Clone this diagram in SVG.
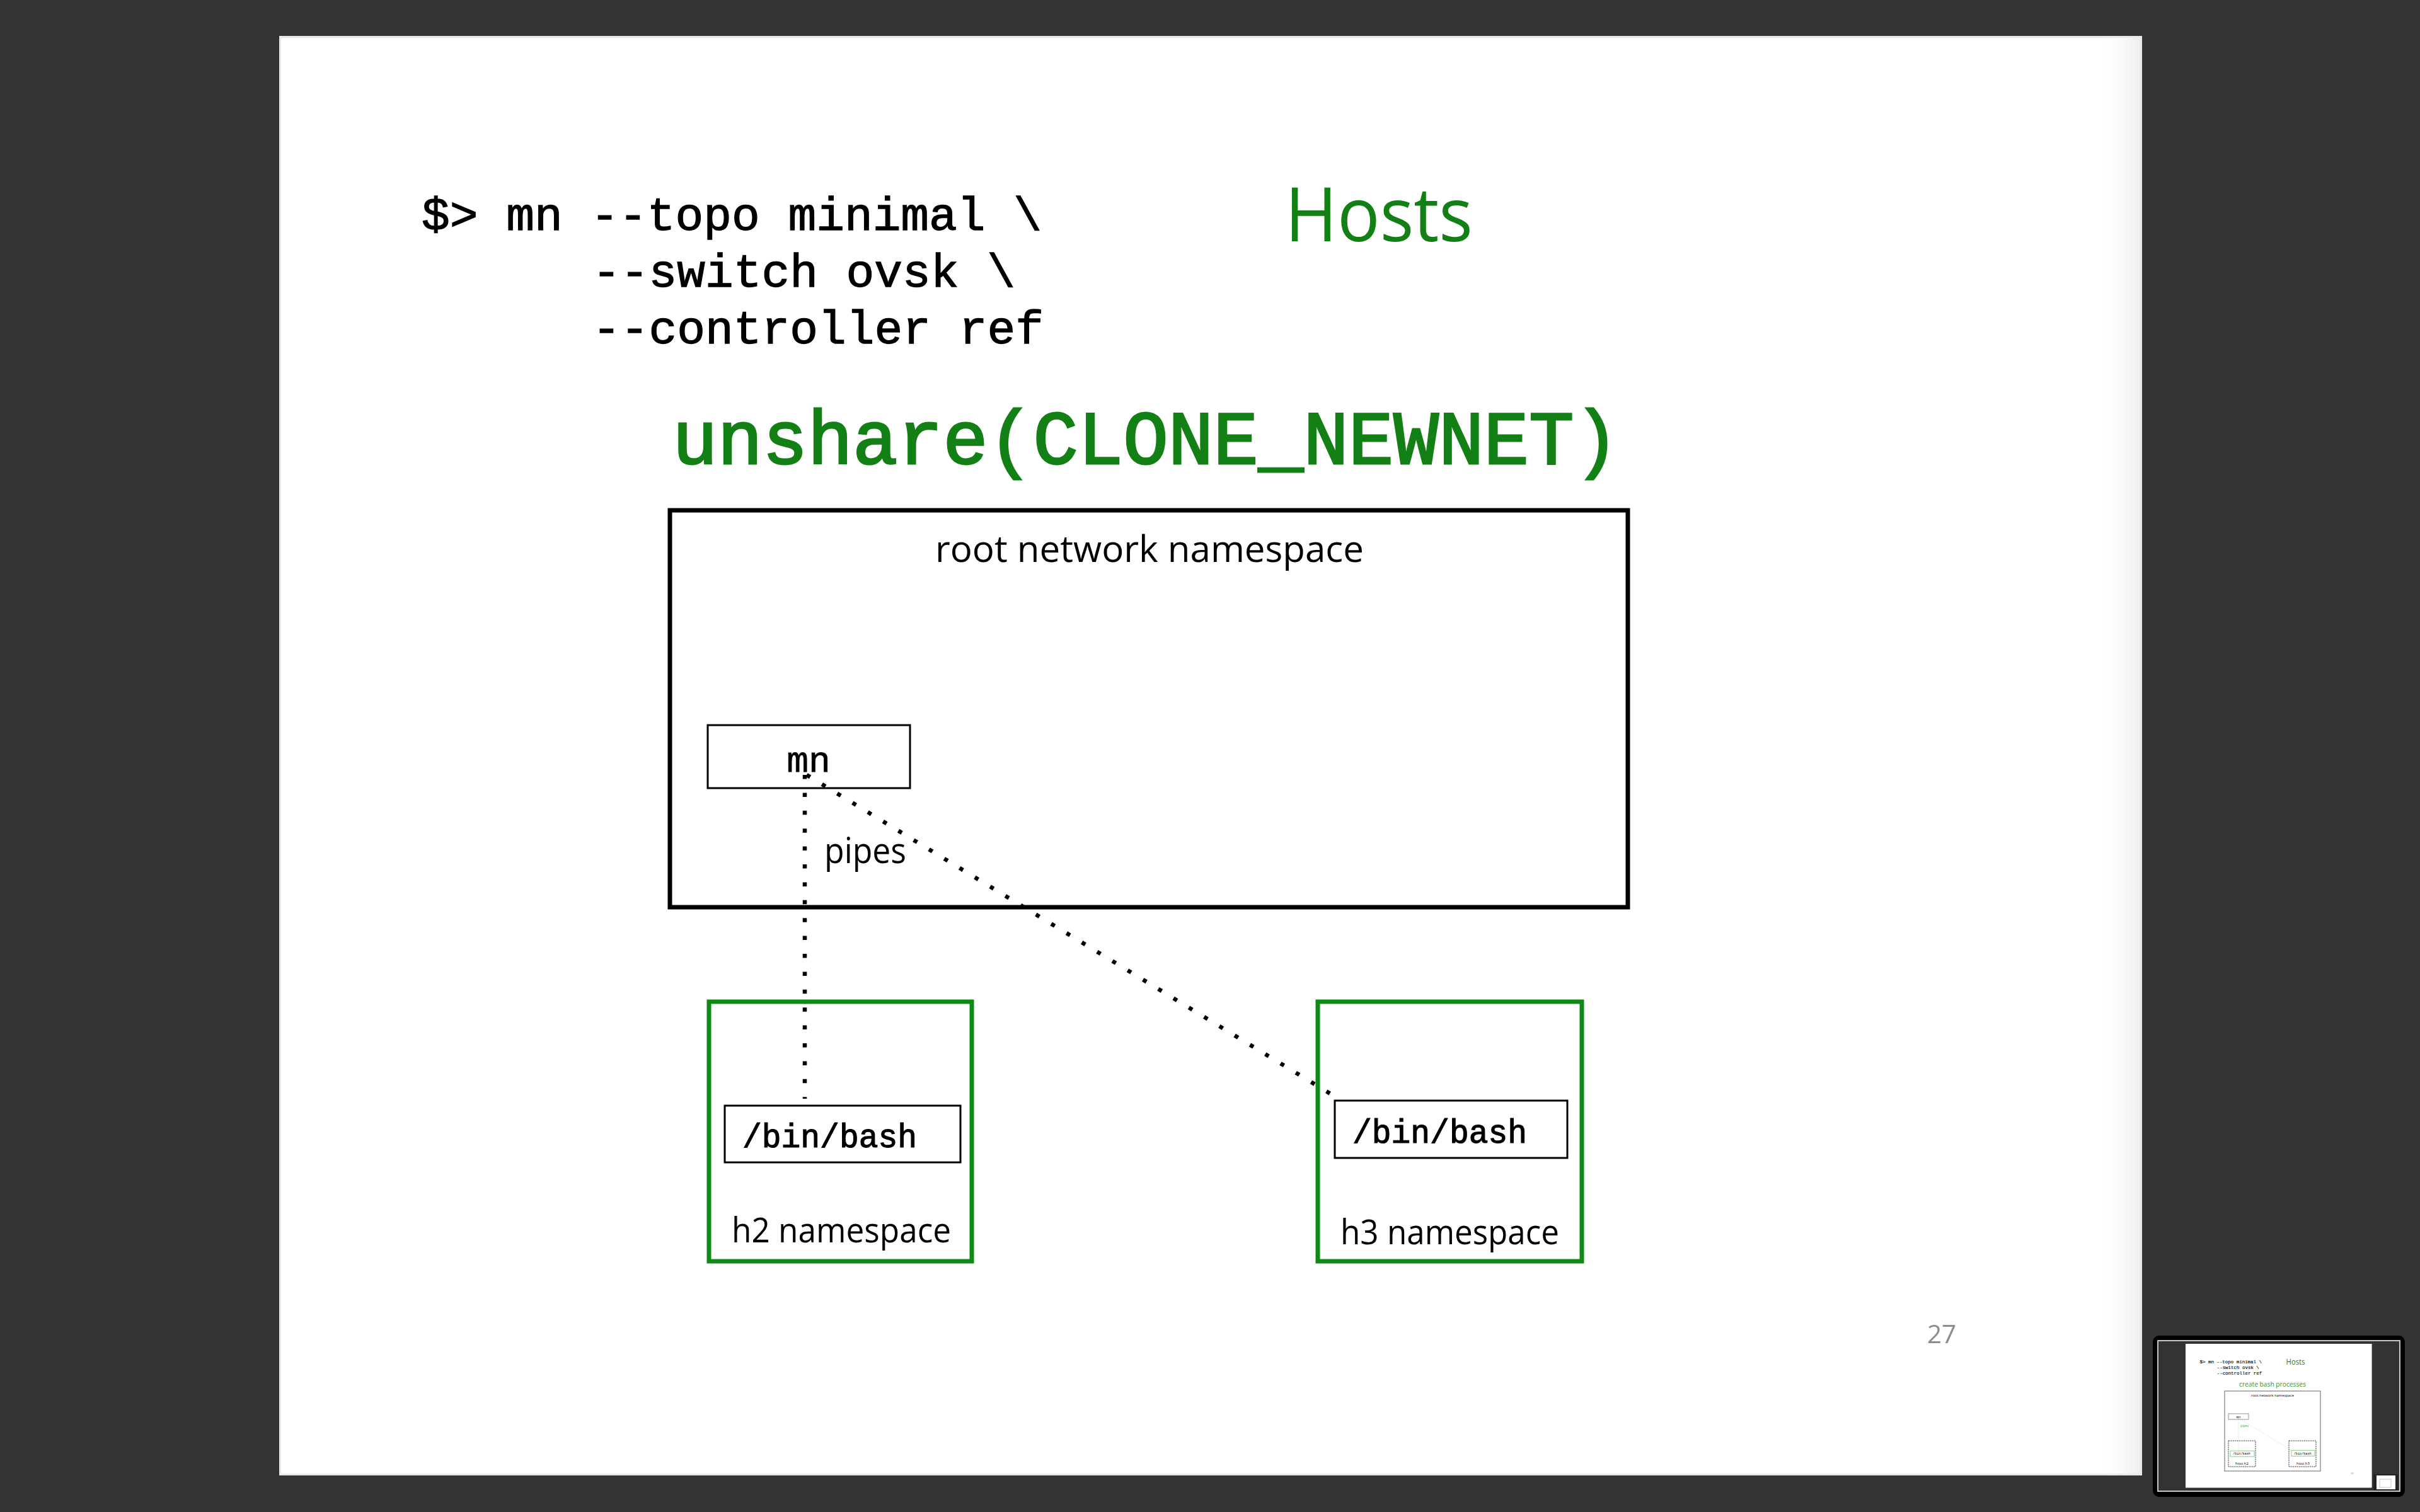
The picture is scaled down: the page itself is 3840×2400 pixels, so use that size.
<svg xmlns="http://www.w3.org/2000/svg" width="3840" height="2400" viewBox="0 0 3840 2400">
  <style>
    .mono { font-family: "Liberation Mono", "Courier New", monospace; font-weight: normal; }
    .sans { font-family: "Open Sans", "Noto Sans", "Liberation Sans", sans-serif; }
    .cmd { font-size: 75px; fill: #000; stroke: #000; stroke-width: 1.3px; }
    .green { fill: #138015; }
    .label { fill: #000; }
    .heavy { stroke: #000; stroke-width: 1.2px; }
    .gheavy { stroke: #138015; stroke-width: 3px; }
    .box { fill: none; stroke: #000; }
    .gbox { fill: none; stroke: #0e8a16; stroke-width: 7; }
    .pipe { fill: none; stroke: #000; stroke-width: 6.5; stroke-dasharray: 6.5 21.9; }
    .mpipe { fill: none; stroke: #4cae4c; stroke-width: 6; stroke-dasharray: 6 18; }
    .mdash { fill: none; stroke: #222; stroke-width: 9; stroke-dasharray: 22 12; }
  </style>
  <defs>
    <linearGradient id="edge" x1="0" y1="0" x2="1" y2="0">
      <stop offset="0" stop-color="#ffffff" stop-opacity="0"/>
      <stop offset="1" stop-color="#ececec" stop-opacity="1"/>
    </linearGradient>
  </defs>

  <!-- background -->
  <rect x="0" y="0" width="3840" height="2400" fill="#333333"/>

  <!-- slide -->
  <g id="slide">
    <rect x="443" y="57" width="2956" height="2285" fill="#ffffff"/>
    <rect x="3330" y="57" width="69" height="2285" fill="url(#edge)"/>
    <rect x="444.5" y="58.5" width="2953" height="2282" fill="none" stroke="#e8e8e8" stroke-width="3"/>
  </g>

  <!-- command text -->
  <g id="command">
    <text class="mono cmd" x="669" y="365" textLength="984" lengthAdjust="spacingAndGlyphs">$&gt; mn --topo minimal \</text>
    <text class="mono cmd" x="940" y="455" textLength="671" lengthAdjust="spacingAndGlyphs">--switch ovsk \</text>
    <text class="mono cmd" x="940" y="545" textLength="716" lengthAdjust="spacingAndGlyphs">--controller ref</text>
  </g>

  <g id="title">
    <text class="sans green" x="2039" y="383" font-size="119" textLength="298" lengthAdjust="spacingAndGlyphs">Hosts</text>
  </g>

  <g id="subtitle">
    <text class="mono green gheavy" x="1067" y="736" font-size="121" textLength="1502" lengthAdjust="spacingAndGlyphs">unshare(CLONE_NEWNET)</text>
  </g>

  <!-- root namespace -->
  <g id="root-namespace">
    <rect class="box" x="1063" y="810" width="1520" height="630" stroke-width="7"/>
    <text class="sans label" x="1484" y="892" font-size="58" textLength="680" lengthAdjust="spacingAndGlyphs">root network namespace</text>
  </g>

  <!-- connectors -->
  <g id="connectors">
    <line class="pipe" x1="1277" y1="1230" x2="1277" y2="1744"/>
    <line class="pipe" x1="1280" y1="1230" x2="2124" y2="1744"/>
    <text class="sans label" x="1308" y="1370" font-size="56" textLength="130" lengthAdjust="spacingAndGlyphs">pipes</text>
  </g>

  <g id="mn">
    <rect class="box" x="1123" y="1151" width="321" height="100" stroke-width="3" fill="none"/>
    <text class="mono label" x="1283" y="1225" font-size="58" text-anchor="middle" stroke="#000" stroke-width="0.8">mn</text>
  </g>

  <!-- h2 namespace -->
  <g id="h2-namespace">
    <rect class="gbox" x="1125" y="1590" width="417" height="412"/>
    <text class="sans label" x="1161" y="1972" font-size="54" textLength="348" lengthAdjust="spacingAndGlyphs">h2 namespace</text>
  </g>
  <g id="h2-bash">
    <rect class="box" x="1150" y="1755" width="374" height="90" stroke-width="3"/>
    <text class="mono label heavy" x="1178" y="1821" font-size="53" textLength="277" lengthAdjust="spacingAndGlyphs">/bin/bash</text>
  </g>

  <!-- h3 namespace -->
  <g id="h3-namespace">
    <rect class="gbox" x="2091" y="1590" width="419" height="412"/>
    <text class="sans label" x="2127" y="1975" font-size="54" textLength="347" lengthAdjust="spacingAndGlyphs">h3 namespace</text>
  </g>
  <g id="h3-bash">
    <rect class="box" x="2118" y="1747" width="369" height="91" stroke-width="3"/>
    <text class="mono label heavy" x="2146" y="1814" font-size="53" textLength="277" lengthAdjust="spacingAndGlyphs">/bin/bash</text>
  </g>

  <g id="page-number">
    <text class="sans" x="3058" y="2132" font-size="40" fill="#8c8c8c" textLength="46" lengthAdjust="spacingAndGlyphs">27</text>
  </g>

  <!-- slide navigator thumbnail -->
  <g id="thumbnail">
    <rect x="3416" y="2120" width="400" height="256" rx="10" fill="#000000"/>
    <rect x="3424" y="2128" width="384" height="239" fill="#333333" stroke="#ffffff" stroke-width="1.5"/>
    <g transform="translate(3468 2133) scale(0.1) translate(-443 -56)">
      <rect x="443" y="56" width="2956" height="2285" fill="#ffffff"/>
      <text class="mono cmd" x="669" y="365" textLength="984" lengthAdjust="spacingAndGlyphs">$&gt; mn --topo minimal \</text>
      <text class="mono cmd" x="940" y="455" textLength="671" lengthAdjust="spacingAndGlyphs">--switch ovsk \</text>
      <text class="mono cmd" x="940" y="545" textLength="716" lengthAdjust="spacingAndGlyphs">--controller ref</text>
      <text class="sans green" x="2039" y="383" font-size="119" textLength="298" lengthAdjust="spacingAndGlyphs">Hosts</text>
      <text class="sans" x="1293" y="736" font-size="104" fill="#2a9a2a" textLength="1060" lengthAdjust="spacingAndGlyphs">create bash processes</text>
      <rect x="1063" y="806" width="1520" height="1270" fill="none" stroke="#555" stroke-width="9"/>
      <text class="sans label" x="1484" y="896" font-size="58" textLength="680" lengthAdjust="spacingAndGlyphs">root network namespace</text>
      <rect x="1123" y="1166" width="320" height="90" fill="none" stroke="#888" stroke-width="9"/>
      <text class="mono label" x="1283" y="1233" font-size="58" text-anchor="middle">mn</text>
      <line class="mpipe" x1="1283" y1="1236" x2="1283" y2="1756"/>
      <line class="mpipe" x1="1283" y1="1236" x2="2120" y2="1746"/>
      <text class="sans" x="1313" y="1376" font-size="56" fill="#3aa23a" textLength="130" lengthAdjust="spacingAndGlyphs">pipes</text>
      <rect class="mdash" x="1123" y="1596" width="430" height="410"/>
      <rect class="mdash" x="2083" y="1596" width="430" height="410"/>
      <rect x="1153" y="1756" width="380" height="90" fill="none" stroke="#7cc87c" stroke-width="9"/>
      <rect x="2123" y="1748" width="370" height="90" fill="none" stroke="#7cc87c" stroke-width="9"/>
      <text class="mono label" x="1193" y="1818" font-size="48" textLength="280" lengthAdjust="spacingAndGlyphs">/bin/bash</text>
      <text class="mono label" x="2160" y="1812" font-size="48" textLength="280" lengthAdjust="spacingAndGlyphs">/bin/bash</text>
      <text class="sans label" x="1233" y="1976" font-size="58" textLength="210" lengthAdjust="spacingAndGlyphs">host h2</text>
      <text class="sans label" x="2203" y="1976" font-size="58" textLength="210" lengthAdjust="spacingAndGlyphs">host h3</text>
      <text class="sans" x="3063" y="2126" font-size="40" fill="#8c8c8c">26</text>
    </g>
    <rect x="3766" y="2340" width="39" height="26" fill="#222222"/>
    <rect x="3771" y="2342" width="30" height="22" fill="#ffffff"/>
    <rect x="3776" y="2348" width="18" height="13" fill="none" stroke="#bbbbbb" stroke-width="0.8"/>
  </g>
</svg>
